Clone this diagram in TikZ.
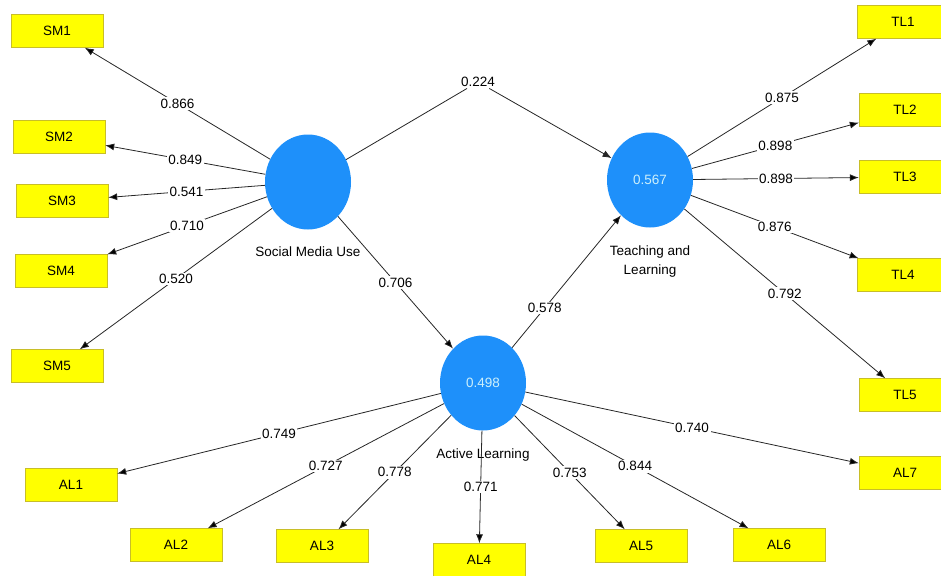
\documentclass[tikz,border=0pt]{standalone}
\usepackage{fontspec}
\setmainfont{Liberation Sans}
\usepackage{tikz}
\definecolor{constructblue}{RGB}{30,144,250}
\definecolor{valuecyan}{RGB}{205,240,250}
\definecolor{itemyellow}{RGB}{255,255,0}
\definecolor{itemborder}{RGB}{200,190,40}
\tikzstyle{loading} = [fill=white,inner sep=1.5pt]
\tikzstyle{path arrow} = [-{Latex[length=9pt,width=7pt]},draw=black!85,line width=0.8pt]
\usetikzlibrary{shapes.geometric}
\usetikzlibrary{arrows.meta}
\usetikzlibrary{positioning}

\begin{document}
\begin{tikzpicture}[x=1pt,y=-1pt,on grid,
      font=\fontsize{13.5}{15}\selectfont,
      construct node/.style={ellipse,fill=constructblue,text=valuecyan,minimum width=86pt,minimum height=95pt,inner sep=0pt},
      item node/.style={rectangle,draw=itemborder,fill=itemyellow,minimum width=92pt,minimum height=33pt,inner sep=0pt}]

      \useasboundingbox (0,0) rectangle (941,575);

      \node[construct node] (SM) at (308,182) {};
      \node[construct node] (TL) at (650,180) {0.567};
      \node[construct node] (AL) at (483,383) {0.498};
      \node (SMname) [below=70pt of SM] {Social Media Use};
      \node[align=center] (TLname) [below=82pt of TL] {Teaching and\\[4pt]Learning};
      \node (ALname) [below=72pt of AL] {Active Learning};

      \node[item node] (SM1) [above left=151pt and 251pt of SM] {SM1};
      \node[item node] (SM2) [above left=45pt and 249pt of SM] {SM2};
      \node[item node] (SM3) [below left=19pt and 246pt of SM] {SM3};
      \node[item node] (SM4) [below left=89pt and 247pt of SM] {SM4};
      \node[item node] (SM5) [below left=184pt and 251pt of SM] {SM5};

      \node[item node] (TL1) [above right=158pt and 253pt of TL] {TL1};
      \node[item node] (TL2) [above right=70pt and 255pt of TL] {TL2};
      \node[item node] (TL3) [above right=3pt and 255pt of TL] {TL3};
      \node[item node] (TL4) [below right=95pt and 253pt of TL] {TL4};
      \node[item node] (TL5) [below right=215pt and 255pt of TL] {TL5};

      \node[item node] (AL1) [below left=102pt and 412pt of AL] {AL1};
      \node[item node] (AL2) [below left=162pt and 307pt of AL] {AL2};
      \node[item node] (AL3) [below left=163pt and 161pt of AL] {AL3};
      \node[item node] (AL4) [below left=177pt and 4pt of AL] {AL4};
      \node[item node] (AL5) [below right=163pt and 158pt of AL] {AL5};
      \node[item node] (AL6) [below right=162pt and 296pt of AL] {AL6};
      \node[item node] (AL7) [below right=90pt and 422pt of AL] {AL7};

      \node[loading] (BEND) at (478,82) {0.224};

      \foreach \i/\w in {1/0.866,2/0.849,3/0.541,4/0.710,5/0.520}{\path[path arrow] (SM) edge node[loading] {\w} (SM\i);}
      \foreach \i/\w in {1/0.875,2/0.898,3/0.898,4/0.876,5/0.792}{\path[path arrow] (TL) edge node[loading] {\w} (TL\i);}
      \foreach \i/\w in {1/0.749,2/0.727,3/0.778,4/0.771,5/0.753,6/0.844,7/0.740}{\path[path arrow] (AL) edge node[loading] {\w} (AL\i);}

      \path[path arrow]
      (SM) edge node[loading] {0.706} (AL)
      (AL) edge node[loading,pos=0.3] {0.578} (TL);
      \draw[path arrow] (SM) -- (BEND) -- (TL);
    \end{tikzpicture}
\end{document}
